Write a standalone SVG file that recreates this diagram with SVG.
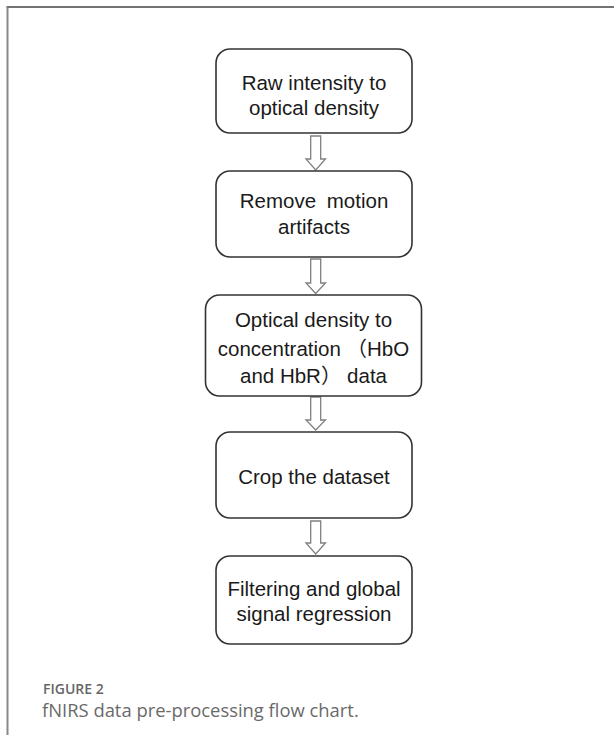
<svg xmlns="http://www.w3.org/2000/svg" width="614" height="735" viewBox="0 0 614 735">
<style>
.box{fill:#fff;stroke:#333;stroke-width:1.6}
.t{font-family:"Liberation Sans",Arial,"Noto Sans CJK SC",sans-serif;font-size:20.5px;fill:#1a1a1a;text-anchor:middle}
.arr{fill:#fff;stroke:#808080;stroke-width:1.3;stroke-linejoin:miter}
.cap1{font-family:"Open Sans",sans-serif;font-size:14px;font-weight:600;fill:#666}
.cap2{font-family:"Open Sans",sans-serif;font-size:18.4px;font-weight:400;fill:#6a6a6a}
</style>
<rect x="0" y="0" width="614" height="735" fill="#fff"/>
<g id="frame">
<line x1="6.5" y1="7" x2="614" y2="7" stroke="#444" stroke-width="1.6"/>
<line x1="7.5" y1="7" x2="7.5" y2="735" stroke="#888" stroke-width="2"/>
</g>
<g id="connectors">
<path class="arr" d="M310.7 136 H320.7 V159 H325.5 L315.7 170 L306 159 H310.7 Z"/>
<path class="arr" d="M310.7 259 H320.7 V283 H325.5 L315.7 293.5 L306 283 H310.7 Z"/>
<path class="arr" d="M310.7 397 H320.7 V420 H325.5 L315.7 430 L306 420 H310.7 Z"/>
<path class="arr" d="M310.7 521 H320.7 V543 H325.5 L315.7 554 L306 543 H310.7 Z"/>
</g>
<g id="n1">
<rect class="box" x="216" y="49" width="196" height="84" rx="14"/>
<text class="t" x="314" y="90">Raw intensity to</text>
<text class="t" x="314" y="115">optical density</text>
</g>
<g id="n2">
<rect class="box" x="216" y="171" width="196" height="86" rx="14"/>
<text class="t" x="314" y="208" word-spacing="5">Remove motion</text>
<text class="t" x="314" y="234">artifacts</text>
</g>
<g id="n3">
<rect class="box" x="205.5" y="295" width="216" height="101" rx="14"/>
<text class="t" x="313.5" y="327">Optical density to</text>
<text class="t" x="313.5" y="356">concentration （HbO</text>
<text class="t" x="313.5" y="383">and HbR） data</text>
</g>
<g id="n4">
<rect class="box" x="216" y="432" width="196" height="86" rx="14"/>
<text class="t" x="314" y="484">Crop the dataset</text>
</g>
<g id="n5">
<rect class="box" x="216" y="556" width="196" height="88" rx="14"/>
<text class="t" x="314" y="596">Filtering and global</text>
<text class="t" x="314" y="621">signal regression</text>
</g>
<g id="caption">
<text class="cap1" x="43" y="694">FIGURE 2</text>
<text class="cap2" x="42" y="717">fNIRS data pre-processing flow chart.</text>
</g>
</svg>
